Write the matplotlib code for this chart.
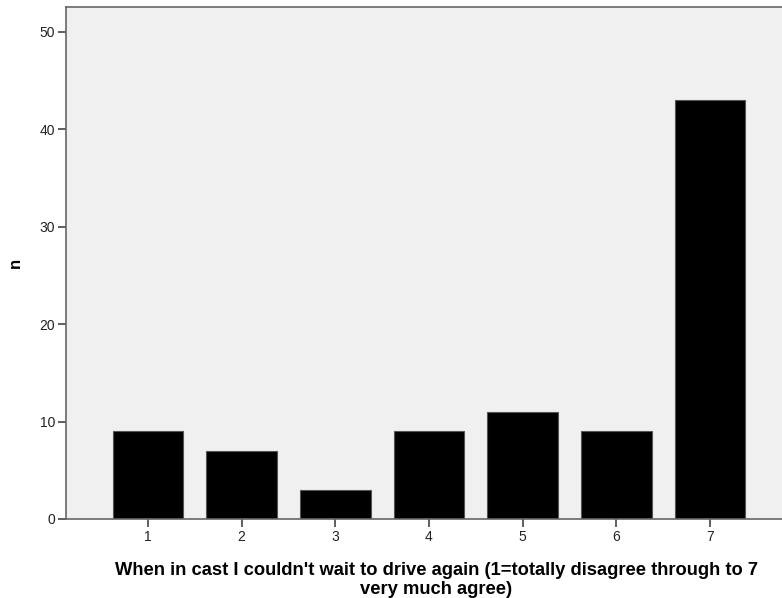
import numpy as np
import matplotlib.pyplot as plt

# response categories and counts
categories = [1, 2, 3, 4, 5, 6, 7]
counts = [9, 7, 3, 9, 11, 9, 43]
y_ticks = [0, 10, 20, 30, 40, 50]

plt.rcParams['font.family'] = ['Liberation Sans', 'DejaVu Sans']

fig = plt.figure(figsize=(7.82, 5.98), dpi=100)
ax = fig.add_axes([66 / 782, 79 / 598, 716 / 782, 512.5 / 598])
ax.set_facecolor('#f0f0f0')

ax.bar(categories, counts, width=0.755, color='black', edgecolor='#555555', linewidth=0.8, zorder=2)

ax.set_xlim(0.124, 7.77)
ax.set_ylim(0, 52.6)
ax.set_xticks(categories)
ax.set_yticks(y_ticks)
ax.tick_params(axis='both', labelsize=10, length=6, width=1.2, color='#444444', pad=2, labelcolor='#222222')

for side in ['left', 'bottom', 'top']:
    ax.spines[side].set_color('#666666')
    ax.spines[side].set_linewidth(1.2)
ax.spines['right'].set_visible(False)

ax.set_ylabel('n', fontsize=12, fontweight='bold', labelpad=12)
fig.text(0.558, 0.030,
         "When in cast I couldn't wait to drive again (1=totally disagree through to 7\nvery much agree)",
         ha='center', va='center', multialignment='center',
         fontsize=13.2, fontweight='bold', linespacing=1.2)

fig.savefig('out.png', dpi=100)
